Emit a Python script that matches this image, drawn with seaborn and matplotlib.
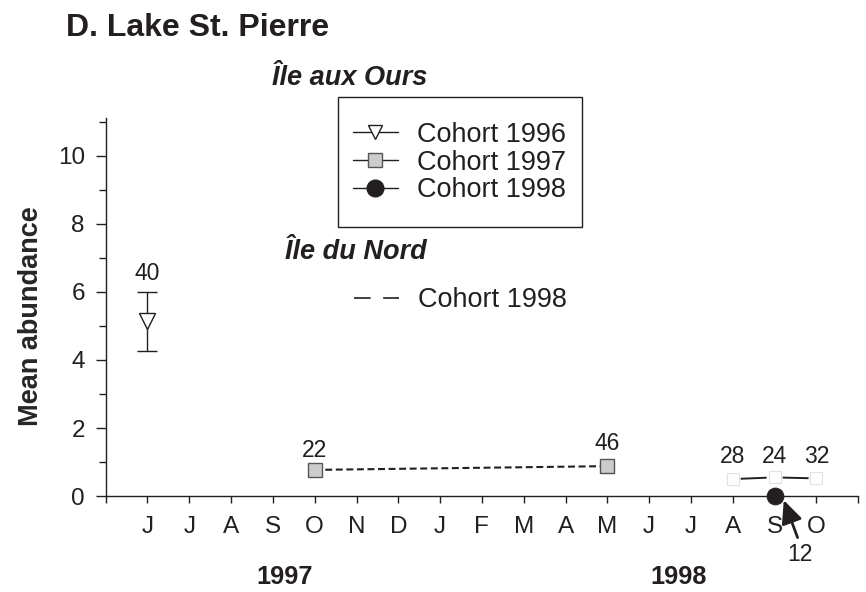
import matplotlib
matplotlib.use("Agg")
import matplotlib.pyplot as plt
from matplotlib.lines import Line2D
from matplotlib.ticker import MultipleLocator
import seaborn as sns
import pandas as pd

# === Data ===
months = ["J", "J", "A", "S", "O", "N", "D", "J", "F", "M", "A", "M", "J", "J", "A", "S", "O"]

# Ile aux Ours
c96_x = [0]
c96_y = [5.15]
c96_lo = [4.25]
c96_hi = [6.0]
c96_n = [40]

c97_x = [4, 11]
c97_y = [0.77, 0.88]
c97_err = [0.0, 0.14]
c97_n = [22, 46]

c98_x = [15]
c98_y = [0.0]
c98_n = [12]

# Ile du Nord
nord_x = [14, 15, 16]
nord_y = [0.50, 0.55, 0.52]
nord_n = [28, 24, 32]

dark = "#231f20"

sns.set_style("ticks")
plt.rcParams["font.family"] = ["Liberation Sans", "DejaVu Sans"]
plt.rcParams["lines.scale_dashes"] = False
plt.rcParams["text.color"] = dark
plt.rcParams["axes.edgecolor"] = dark
plt.rcParams["xtick.color"] = dark
plt.rcParams["ytick.color"] = dark

fig = plt.figure(figsize=(8.66, 5.92), dpi=100)
ax = fig.add_axes([0.122, 0.162, 0.869, 0.638])

# === Ile du Nord, cohort 1998 (dashed, faint markers) ===
nord = pd.DataFrame({"x": nord_x, "y": nord_y})
sns.lineplot(data=nord, x="x", y="y", ax=ax, color=dark, lw=1.4,
             linestyle=(24.5, (18.7, 11.5)), marker="s", markersize=8,
             markerfacecolor="white", markeredgecolor="#e2e2e2",
             markeredgewidth=0.8, zorder=2)

# === Ile aux Ours, cohort 1997 ===
c97 = pd.DataFrame({"x": c97_x, "y": c97_y})
ax.errorbar(c97_x, c97_y, yerr=c97_err, fmt="none", ecolor=dark, elinewidth=1,
            capsize=3, zorder=3)
sns.lineplot(data=c97, x="x", y="y", ax=ax, color=dark, lw=1.5,
             linestyle=(0, (5, 2.6)), marker="s", markersize=9.5,
             markerfacecolor="#cccccc", markeredgecolor="#555555",
             markeredgewidth=1, zorder=4)

# === cohort 1996 ===
ax.errorbar(c96_x, c96_y,
            yerr=[[c96_y[0] - c96_lo[0]], [c96_hi[0] - c96_y[0]]],
            fmt="none", ecolor=dark, elinewidth=1, capsize=7, zorder=3)
c96 = pd.DataFrame({"x": c96_x, "y": c96_y})
sns.lineplot(data=c96, x="x", y="y", ax=ax, color=dark, marker="v",
             markersize=12, markerfacecolor="white", markeredgecolor=dark,
             markeredgewidth=1, zorder=4)

# === cohort 1998 ===
c98 = pd.DataFrame({"x": c98_x, "y": c98_y})
sns.lineplot(data=c98, x="x", y="y", ax=ax, color=dark, marker="o",
             markersize=12, markerfacecolor=dark, markeredgecolor=dark,
             zorder=5, clip_on=False)

# === sample sizes ===
ax.text(c96_x[0], c96_hi[0] + 0.55, str(c96_n[0]), ha="center", va="center", fontsize=16.5)
for x, y, n, dy in zip(c97_x, c97_y, c97_n, [0.58, 0.68]):
    ax.text(x, y + dy, str(n), ha="center", va="center", fontsize=16.5)
for x, y, n in zip(nord_x, nord_y, nord_n):
    ax.text(x, 1.15, str(n), ha="center", va="center", fontsize=16.5)
ax.annotate("", xy=(15.22, -0.12), xytext=(15.55, -1.22), annotation_clip=False,
            arrowprops=dict(arrowstyle="-|>,head_length=0.7,head_width=0.32",
                            color=dark, lw=2, mutation_scale=20,
                            shrinkA=0, shrinkB=0))
ax.text(15.6, -1.72, str(c98_n[0]), ha="center", va="center", fontsize=16.5,
        clip_on=False)

# === axes ===
ax.set_xlim(-1, 17)
ax.set_ylim(0, 11.1)
ax.set_xticks(range(-1, 18))
ax.set_xticklabels([""] + months + [""], fontsize=17.5)
ax.yaxis.set_major_locator(MultipleLocator(2))
ax.yaxis.set_minor_locator(MultipleLocator(1))
ax.set_yticks(range(0, 11, 2))
ax.set_yticklabels([str(v) for v in range(0, 11, 2)], fontsize=17.5)
ax.tick_params(axis="y", which="major", length=7, width=1, pad=8)
ax.tick_params(axis="y", which="minor", length=5, width=1)
ax.tick_params(axis="x", which="major", length=5, width=1, pad=9)
ax.set_xlabel("")
ax.set_ylabel("Mean abundance", fontsize=19.5, fontweight="bold", labelpad=10)
ax.yaxis.label.set_y(0.476)
sns.despine(ax=ax)
for s in ["left", "bottom"]:
    ax.spines[s].set_linewidth(1)

# year labels
ax.text(3.28, -2.38, "1997", ha="center", va="center", fontsize=18.3,
        fontweight="bold", clip_on=False)
ax.text(12.7, -2.38, "1998", ha="center", va="center", fontsize=18.3,
        fontweight="bold", clip_on=False)

# site labels
ax.text(4.84, 12.28, "Île aux Ours", ha="center", va="center", fontsize=19.5,
        fontweight="bold", style="italic", clip_on=False)
ax.text(4.98, 7.17, "Île du Nord", ha="center", va="center", fontsize=19.5,
        fontweight="bold", style="italic")

# legends
h96 = Line2D([], [], color=dark, lw=1, marker="v", markersize=10.5,
             markerfacecolor="white", markeredgecolor=dark)
h97 = Line2D([], [], color=dark, lw=1, marker="s", markersize=9.5,
             markerfacecolor="#cccccc", markeredgecolor="#555555")
h98 = Line2D([], [], color=dark, lw=1, marker="o", markersize=12,
             markerfacecolor=dark, markeredgecolor=dark)
leg1 = ax.legend([h96, h97, h98], ["Cohort 1996", "Cohort 1997", "Cohort 1998"],
                 loc="upper left", bbox_to_anchor=(338 / 866, 1 - 107 / 592),
                 bbox_transform=fig.transFigure, borderaxespad=0, fontsize=19.5,
                 handlelength=1.65, handletextpad=0.72, labelspacing=0.06,
                 borderpad=0.55, frameon=False)
ax.add_artist(leg1)
fig.patches.append(plt.Rectangle((338 / 866, 1 - 227 / 592), 244 / 866, 130 / 592,
                                 transform=fig.transFigure, fill=False,
                                 edgecolor=dark, lw=1))

hn = Line2D([], [], color=dark, lw=1.2, linestyle=(0, (12, 9)))
ax.legend([hn], ["Cohort 1998"], loc="center left",
          bbox_to_anchor=(338 / 866, 1 - 300 / 592),
          bbox_transform=fig.transFigure, borderaxespad=0, fontsize=19.5,
          handlelength=1.65, handletextpad=0.7, borderpad=0.6, frameon=False)

fig.text(66 / 866, 1 - 28 / 592, "D. Lake St. Pierre", ha="left", va="center",
         fontsize=23, fontweight="bold")

fig.savefig("out.png", dpi=100)
